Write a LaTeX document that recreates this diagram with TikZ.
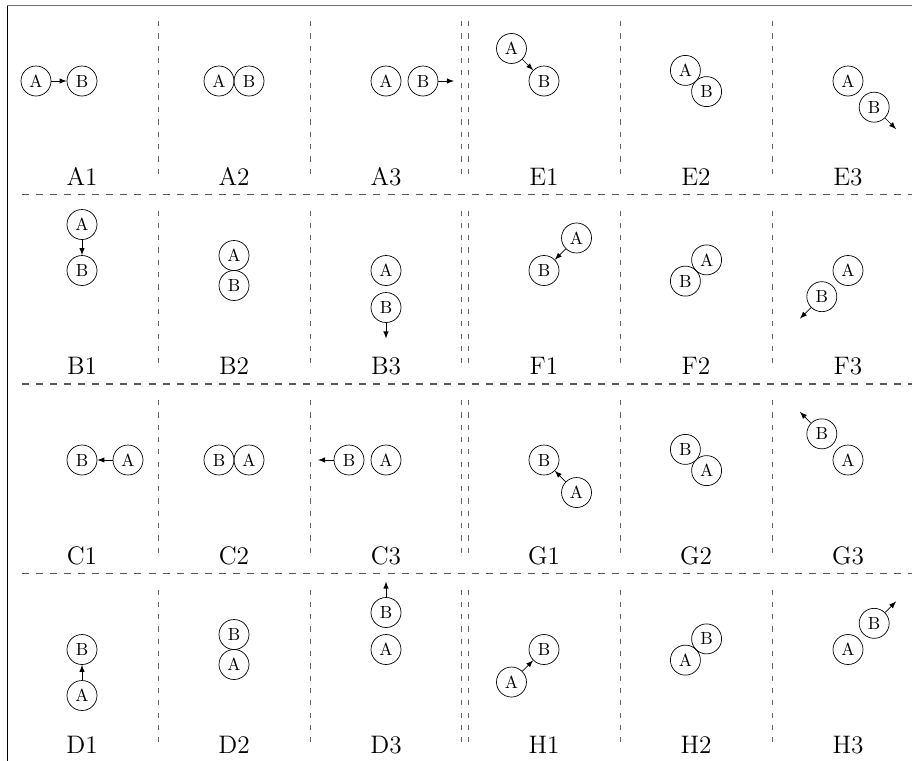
\documentclass[tikz,border=0pt]{standalone}
\usetikzlibrary{calc}
\begin{document}
\begin{tikzpicture}[
    ball/.style={draw,circle,minimum size=6mm,inner sep=0pt},
    tag/.style={font=\Large,anchor=base},
    rowsep/.style={black!65,line width=0.6pt,dash pattern=on 4pt off 4pt},
    colsep/.style={black!60,line width=0.45pt,dash pattern=on 3pt off 4pt},
    >=latex]
    \useasboundingbox (0,0) rectangle (18.24,-15.2);
    % Frame
        \coordinate (tl) at (0.14,-0.11);
        \coordinate (tr) at (18.3,-0.11);
        \coordinate (bl) at (0.14,-15.3);
        \draw[black!55,line width=0.8pt] (tl) -- (tr);
        \draw (tl) -- (bl);
    % Separators
        % Rows
        \foreach \y in {3.89,7.68,11.47}{
            \draw[rowsep] (0.44,-\y) -- (18.3,-\y);
        }
        % Columns
        \foreach \y in {0.1,3.89,7.68,11.47}{
            \foreach \x in {3.16,6.2,9.22,9.36,12.4,15.44}{
                \draw[colsep] (\x,-\y-0.32) -- (\x,-\y-3.5);
            }
        }
    % Panels
        \foreach \grp/\xo/\yo/\ux/\uy in {A/0.12/0.1/1/0,B/0.12/3.89/0/-1,
            C/0.12/7.68/-1/0,D/0.12/11.47/0/1,
            E/9.36/0.1/0.7071/-0.7071,F/9.36/3.89/-0.7071/-0.7071,
            G/9.36/7.68/-0.7071/0.7071,H/9.36/11.47/0.7071/0.7071}{
            \foreach \num/\sa/\sb in {1/-0.92/0,2/-0.3/0.3,3/0/0.74}{
                \pgfmathsetmacro\cx{\xo+(\num-1)*3.04+1.52}
                \pgfmathsetmacro\cy{-\yo-1.52}
                \node[ball] (\grp\num a) at ({\cx+\sa*(\ux)},{\cy+\sa*(\uy)}) {A};
                \node[ball] (\grp\num b) at ({\cx+\sb*(\ux)},{\cy+\sb*(\uy)}) {B};
                \node[tag] (\grp\num) at (\cx,-\yo-3.6) {\grp\num};
                \ifnum\num=1
                    \draw[->] (\grp\num a) -- (\grp\num b);
                \fi
                \ifnum\num=3
                    \coordinate (\grp\num e) at ($(\grp\num b)+({0.62*(\ux)},{0.62*(\uy)})$);
                    \draw[->] (\grp\num b) -- (\grp\num e);
                \fi
            }
        }
\end{tikzpicture}
\end{document}
